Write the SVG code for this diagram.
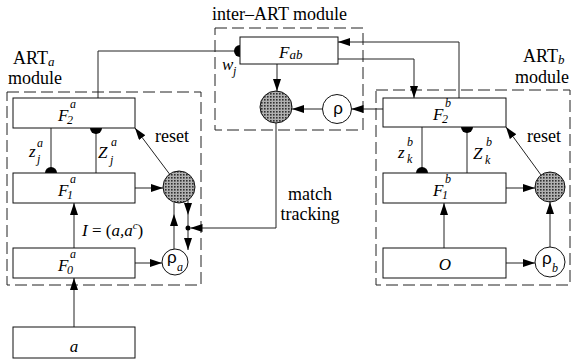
<svg xmlns="http://www.w3.org/2000/svg" width="573" height="364" viewBox="0 0 573 364">
<defs>
<style>
.box{fill:#fff;stroke:#111;stroke-width:1}
.dash{fill:none;stroke:#222;stroke-width:1;stroke-dasharray:12 5}
.ln{fill:none;stroke:#222;stroke-width:1}
.ar{fill:none;stroke:#222;stroke-width:1;marker-end:url(#ah)}
.am{fill:none;stroke:#222;stroke-width:1;marker-mid:url(#ah)}
.sh{fill:url(#stip);stroke:#111;stroke-width:1}
.rc{fill:#fff;stroke:#111;stroke-width:1}
.semi{fill:#000}
.t{font-family:"Liberation Serif",serif;font-size:18px;fill:#000}
.m{font-family:"Liberation Serif",serif;font-style:italic;font-size:17px;fill:#000}
.s{font-family:"Liberation Serif",serif;font-style:italic;font-size:12px;fill:#000}
.g{font-family:"Liberation Sans",sans-serif;font-size:17px;fill:#000}
</style>
<marker id="ah" markerWidth="12" markerHeight="8" refX="12" refY="4" orient="auto" markerUnits="userSpaceOnUse"><path d="M0,0 L12,4 L0,8 z" fill="#000"/></marker>
<pattern id="stip" width="3" height="3" patternUnits="userSpaceOnUse"><rect width="3" height="3" fill="#b0b0b0"/><rect width="1.6" height="1.6" fill="#303030"/></pattern>
</defs>

<g id="module-frames">
<rect class="dash" x="215" y="28" width="148" height="102"/>
<rect class="dash" x="7" y="92" width="194" height="193"/>
<rect class="dash" x="376" y="90" width="194" height="195"/>
<text class="t" x="212" y="20">inter–ART module</text>
<text class="t" x="13" y="64">ART<tspan font-style="italic" font-size="13" dy="2">a</tspan></text>
<text class="t" x="8" y="84">module</text>
<text class="t" x="523" y="62">ART<tspan font-style="italic" font-size="13" dy="2">b</tspan></text>
<text class="t" x="515" y="83">module</text>
</g>

<g id="connectors">
<path class="ln" d="M98,98 V51 H235"/>
<path class="ln" d="M51,128 V173"/>
<path class="ln" d="M96,128 V173"/>
<path class="ar" d="M169.5,174 L135,128"/>
<path class="ar" d="M135,188 H163"/>
<path class="ar" d="M74,248 V203"/>
<path class="ar" d="M74,327 V278"/>
<path class="ar" d="M135,263 H162"/>
<path class="am" d="M174,249 L174,214 L174,203"/>
<path class="am" d="M188,200 L188,215 L188,226"/>
<path class="ar" d="M188,230 L188,250"/>
<circle cx="188" cy="228" r="2.5" fill="#000"/>
<path class="ar" d="M276,123 V228 H190.5"/>
<path class="ar" d="M277,64 V91"/>
<path class="ar" d="M322.5,109 H292"/>
<path class="ar" d="M383,109 H351.5"/>
<path class="ar" d="M459,98 V42 H338"/>
<path class="ar" d="M338,59 H414 V98"/>
<path class="ln" d="M422,127 V173"/>
<path class="ln" d="M467,127 V173"/>
<path class="ar" d="M541,175 L506,127"/>
<path class="ar" d="M506,188 H535"/>
<path class="ar" d="M444,248 V203"/>
<path class="ar" d="M506,263 H535"/>
<path class="ar" d="M550,247 V202"/>
<path class="semi" d="M240,45 A6,6 0 0 0 240,57 Z"/>
<path class="semi" d="M45,173 A6,6 0 0 1 57,173 Z"/>
<path class="semi" d="M90,128 A6,6 0 0 0 102,128 Z"/>
<path class="semi" d="M416,173 A6,6 0 0 1 428,173 Z"/>
<path class="semi" d="M461,127 A6,6 0 0 0 473,127 Z"/>
<text class="m" x="222" y="70">w</text><text class="s" x="233" y="75">j</text>
<text class="m" x="29" y="157">z</text><text class="s" x="37" y="147">a</text><text class="s" x="37" y="163">j</text>
<text class="m" x="98" y="158">Z</text><text class="s" x="111" y="146">a</text><text class="s" x="110" y="164">j</text>
<text class="m" x="398" y="158">z</text><text class="s" x="407" y="146">b</text><text class="s" x="407" y="163">k</text>
<text class="m" x="473" y="159">Z</text><text class="s" x="486" y="146">b</text><text class="s" x="485" y="164">k</text>
<text class="t" x="155" y="142">reset</text>
<text class="t" x="527" y="142">reset</text>
<text class="m" x="82" y="236">I<tspan font-style="normal"> = (</tspan>a,a<tspan font-size="11" dy="-7">c</tspan><tspan font-style="normal" dy="7">)</tspan></text>
<text class="t" x="310" y="200" text-anchor="middle" font-size="17">match</text>
<text class="t" x="310" y="220" text-anchor="middle" font-size="17">tracking</text>
</g>

<g id="F_ab">
<rect class="box" x="240" y="37" width="98" height="27"/>
<text class="m" x="279" y="58">F<tspan font-size="13" dy="1">ab</tspan></text>
</g>
<g id="inter-vigilance">
<circle class="sh" cx="276" cy="107" r="16"/>
</g>
<g id="rho">
<circle class="rc" cx="337" cy="109" r="14.5"/>
<text class="g" x="338" y="114" text-anchor="middle">ρ</text>
</g>

<g id="F2a">
<rect class="box" x="13" y="98" width="122" height="30"/>
<text class="m" x="58" y="121">F</text><text class="s" x="70" y="108" font-size="13">a</text><text class="s" x="67" y="124" font-size="13">2</text>
</g>
<g id="F1a">
<rect class="box" x="13" y="173" width="122" height="30"/>
<text class="m" x="58" y="196">F</text><text class="s" x="70" y="183" font-size="13">a</text><text class="s" x="67" y="199" font-size="13">1</text>
</g>
<g id="F0a">
<rect class="box" x="13" y="248" width="122" height="30"/>
<text class="m" x="58" y="271">F</text><text class="s" x="70" y="258" font-size="13">a</text><text class="s" x="67" y="274" font-size="13">0</text>
</g>
<g id="input-a">
<rect class="box" x="13" y="327" width="122" height="31"/>
<text class="m" x="74" y="352" text-anchor="middle">a</text>
</g>
<g id="reset-a">
<circle class="sh" cx="179" cy="187" r="16"/>
</g>
<g id="rho-a">
<circle class="rc" cx="175" cy="262" r="13"/>
<text class="g" x="167" y="263">ρ</text><text class="s" x="177" y="271" font-size="13">a</text>
</g>

<g id="F2b">
<rect class="box" x="383" y="98" width="123" height="29"/>
<text class="m" x="433" y="120">F</text><text class="s" x="445" y="107" font-size="13">b</text><text class="s" x="442" y="123" font-size="13">2</text>
</g>
<g id="F1b">
<rect class="box" x="383" y="173" width="123" height="30"/>
<text class="m" x="433" y="196">F</text><text class="s" x="445" y="183" font-size="13">b</text><text class="s" x="442" y="199" font-size="13">1</text>
</g>
<g id="input-O">
<rect class="box" x="383" y="248" width="123" height="30"/>
<text class="m" x="445" y="270" text-anchor="middle">O</text>
</g>
<g id="reset-b">
<circle class="sh" cx="550" cy="187" r="15"/>
</g>
<g id="rho-b">
<circle class="rc" cx="550" cy="262" r="15"/>
<text class="g" x="542" y="264">ρ</text><text class="s" x="552" y="272" font-size="13">b</text>
</g>
</svg>
